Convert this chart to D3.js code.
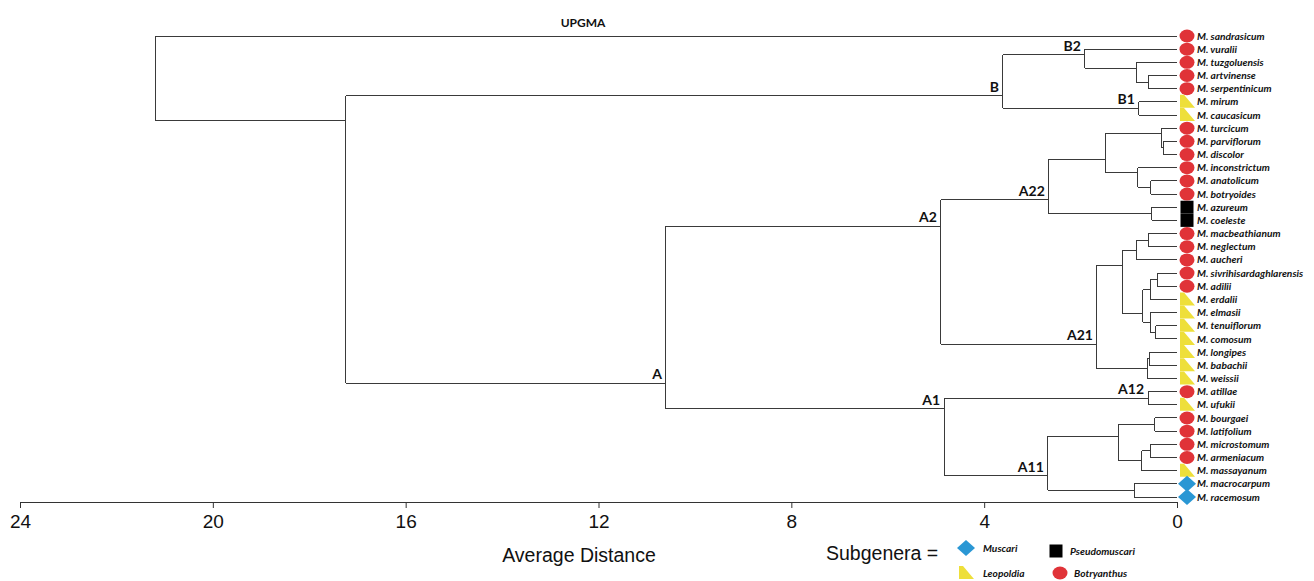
<!DOCTYPE html>
<html>
<head>
<meta charset="utf-8">
<script src="https://cdn.jsdelivr.net/npm/d3@7"></script>
<style>
  body { margin: 0; background: #fff; }
  svg { display: block; }
</style>
</head>
<body>
<div id="chart"></div>
<script>
// Leaves, top to bottom
var leafNames = ["M. sandrasicum", "M. vuralii", "M. tuzgoluensis", "M. artvinense", "M. serpentinicum",
  "M. mirum", "M. caucasicum", "M. turcicum", "M. parviflorum", "M. discolor", "M. inconstrictum",
  "M. anatolicum", "M. botryoides", "M. azureum", "M. coeleste", "M. macbeathianum", "M. neglectum",
  "M. aucheri", "M. sivrihisardaghlarensis", "M. adilii", "M. erdalii", "M. elmasii", "M. tenuiflorum",
  "M. comosum", "M. longipes", "M. babachii", "M. weissii", "M. atillae", "M. ufukii", "M. bourgaei",
  "M. latifolium", "M. microstomum", "M. armeniacum", "M. massayanum", "M. macrocarpum", "M. racemosum"];

// subgenus of each leaf: B = Botryanthus, L = Leopoldia, P = Pseudomuscari, M = Muscari
var leafGroup = ["B", "B", "B", "B", "B", "L", "L", "B", "B", "B", "B", "B", "B", "P", "P", "B", "B",
  "B", "B", "B", "L", "L", "L", "L", "L", "L", "L", "B", "L", "B", "B", "B", "B", "L", "M", "M"];

// merges: [left, right, average distance]; numbers are leaves, "cK" is the K-th merge
var merges = [
  [3, 4, 0.60],        // c0
  [2, "c0", 0.85],     // c1
  [1, "c1", 1.91],     // c2  B2
  [5, 6, 0.79],        // c3  B1
  ["c2", "c3", 3.61],  // c4  B
  [8, 9, 0.29],        // c5
  [7, "c5", 0.33],     // c6
  [11, 12, 0.54],      // c7
  [10, "c7", 0.81],    // c8
  ["c6", "c8", 1.49],  // c9
  [13, 14, 0.52],      // c10
  ["c9", "c10", 2.66], // c11 A22
  [15, 16, 0.60],      // c12
  ["c12", 17, 0.83],   // c13
  [18, 19, 0.41],      // c14
  ["c14", 20, 0.56],   // c15
  [22, 23, 0.44],      // c16
  [21, "c16", 0.56],   // c17
  ["c15", "c17", 0.71],// c18
  ["c13", "c18", 1.14],// c19
  [24, 25, 0.58],      // c20
  ["c20", 26, 0.62],   // c21
  ["c19", "c21", 1.66],// c22 A21
  ["c11", "c22", 4.90],// c23 A2
  [27, 28, 0.60],      // c24 A12
  [29, 30, 0.46],      // c25
  [31, 32, 0.56],      // c26
  ["c26", 33, 0.73],   // c27
  ["c25", "c27", 1.22],// c28
  [34, 35, 0.89],      // c29
  ["c28", "c29", 2.68],// c30 A11
  ["c24", "c30", 4.83],// c31 A1
  ["c23", "c31", 10.60],// c32 A
  ["c4", "c32", 17.24],// c33
  [0, "c33", 21.18]    // c34 root
];

// where the parent branch meets a cluster (in leaf rows), where it is not the middle
var joinRow = { c1: 2.43, c2: 1.44, c4: 4.55, c6: 7.44, c8: 10.4, c9: 9.34, c11: 12.45,
  c18: 21.1, c19: 17.4, c22: 23.4, c23: 14.43, c28: 30.37, c30: 33.4, c31: 28.3, c32: 26.35, c33: 6.45 };

var branchLabels = { c2: "B2", c3: "B1", c4: "B", c11: "A22", c22: "A21", c23: "A2",
  c24: "A12", c30: "A11", c31: "A1", c32: "A" };

var distTicks = [24, 20, 16, 12, 8, 4, 0];

var groupNames = { M: "Muscari", P: "Pseudomuscari", L: "Leopoldia", B: "Botryanthus" };
var groupColor = { M: "#2a97d4", P: "#000000", L: "#eedf3a", B: "#e03338" };

var width = 1314, height = 581;

var svg = d3.select("#chart").append("svg")
    .attr("width", width)
    .attr("height", height);

var x = d3.scaleLinear().domain([24, 0]).range([20, 1177]);
var y = d3.scaleLinear().domain([0, leafNames.length - 1]).range([36, 497]);

// resolve rows and heights of nodes
var nodeRow = {}, nodeH = {};
function rowOf(n) { return typeof n === "number" ? n : nodeRow[n]; }
function hOf(n) { return typeof n === "number" ? 0 : nodeH[n]; }
merges.forEach(function(m, i) {
    var id = "c" + i;
    nodeH[id] = m[2];
    nodeRow[id] = joinRow[id] !== undefined ? joinRow[id] : (rowOf(m[0]) + rowOf(m[1])) / 2;
});

var tree = svg.append("g")
    .attr("fill", "none")
    .attr("stroke", "#3a3a3a")
    .attr("stroke-width", 1)
    .attr("shape-rendering", "crispEdges");

merges.forEach(function(m, i) {
    var xh = x(m[2]);
    // vertical
    tree.append("line")
        .attr("x1", xh).attr("x2", xh)
        .attr("y1", y(rowOf(m[0]))).attr("y2", y(rowOf(m[1])));
    // horizontals to children
    [m[0], m[1]].forEach(function(c) {
        tree.append("line")
            .attr("x1", xh).attr("x2", x(hOf(c)))
            .attr("y1", y(rowOf(c))).attr("y2", y(rowOf(c)));
    });
});

// branch labels
svg.append("g").selectAll("text")
    .data(Object.keys(branchLabels))
    .enter().append("text")
    .attr("x", function(d) { return x(nodeH[d]) - 4; })
    .attr("y", function(d) { return y(nodeRow[d]) - 4; })
    .attr("text-anchor", "end")
    .style("font-family", "Lato, 'Open Sans', sans-serif")
    .style("font-weight", "bold")
    .style("font-size", "14px")
    .style("fill", "#111")
    .text(function(d) { return branchLabels[d]; });

// markers
function drawMarker(g, grp) {
    var c = groupColor[grp];
    if (grp === "B") {
        g.append("ellipse").attr("rx", 7.5).attr("ry", 6.5).attr("fill", c);
    } else if (grp === "L") {
        g.append("polygon").attr("points", "-7,-7 -3,-7 8,6 -7,6").attr("fill", c);
    } else if (grp === "P") {
        g.append("rect").attr("x", -6.5).attr("y", -6.5).attr("width", 13).attr("height", 13).attr("fill", c);
    } else {
        g.append("polygon").attr("points", "0,-8 9,0 0,8 -9,0").attr("fill", c);
    }
}

var leaves = svg.append("g").selectAll("g")
    .data(leafNames)
    .enter().append("g")
    .attr("transform", function(d, i) { return "translate(0," + y(i) + ")"; });

leaves.each(function(d, i) {
    var g = d3.select(this).append("g").attr("transform", "translate(1187,0)");
    drawMarker(g, leafGroup[i]);
});

leaves.append("text")
    .attr("x", 1197)
    .attr("dy", "0.35em")
    .style("font-family", "Lato, 'Open Sans', sans-serif")
    .style("font-weight", "bold")
    .style("font-style", "italic")
    .style("font-size", "10.2px")
    .style("fill", "#111")
    .text(function(d) { return d; });

// axis
var axis = svg.append("g")
    .attr("transform", "translate(0,502)")
    .call(d3.axisBottom(x).tickValues(distTicks).tickSize(6).tickSizeOuter(0).tickPadding(7));
axis.select(".domain").attr("stroke", "#333");
axis.selectAll(".tick line").attr("stroke", "#333");
axis.selectAll("text")
    .style("font-family", "'Liberation Sans', Arial, sans-serif")
    .style("font-size", "19px")
    .style("fill", "#111");

svg.append("text")
    .attr("x", 579)
    .attr("y", 562)
    .attr("text-anchor", "middle")
    .style("font-family", "'Liberation Sans', Arial, sans-serif")
    .style("font-size", "19.5px")
    .style("fill", "#111")
    .text("Average Distance");

// title
svg.append("text")
    .attr("x", 583)
    .attr("y", 27)
    .attr("text-anchor", "middle")
    .style("font-family", "Lato, 'Open Sans', sans-serif")
    .style("font-weight", "bold")
    .style("font-size", "12px")
    .style("fill", "#111")
    .text("UPGMA");

// legend
svg.append("text")
    .attr("x", 826)
    .attr("y", 560)
    .style("font-family", "'Liberation Sans', Arial, sans-serif")
    .style("font-size", "19.5px")
    .style("fill", "#111")
    .text("Subgenera =");

var legendItems = [["M", 966, 548], ["P", 1056, 551], ["L", 966, 573], ["B", 1060, 573]];
var legend = svg.append("g").selectAll("g")
    .data(legendItems)
    .enter().append("g")
    .attr("transform", function(d) { return "translate(" + d[1] + "," + d[2] + ")"; });

legend.each(function(d) { drawMarker(d3.select(this), d[0]); });

legend.append("text")
    .attr("x", function(d) { return d[0] === "M" || d[0] === "L" ? 17 : 14; })
    .attr("dy", "0.35em")
    .style("font-family", "Lato, 'Open Sans', sans-serif")
    .style("font-weight", "bold")
    .style("font-style", "italic")
    .style("font-size", "10.2px")
    .style("fill", "#111")
    .text(function(d) { return groupNames[d[0]]; });
</script>
</body>
</html>
